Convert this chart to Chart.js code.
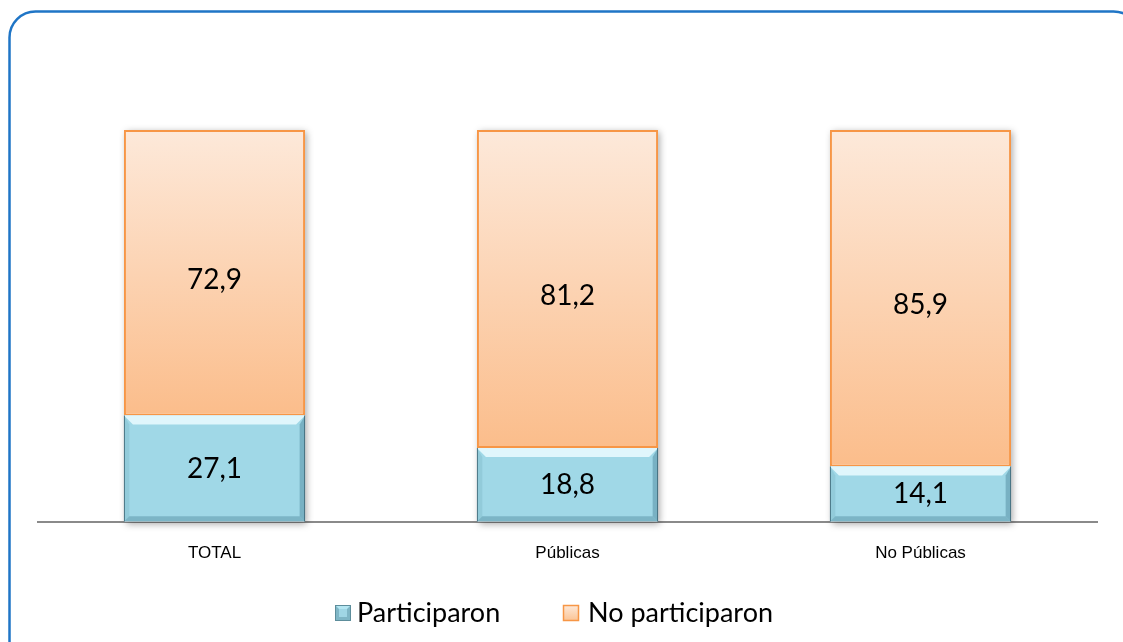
<!DOCTYPE html>
<html lang="es">
<head>
  <meta charset="UTF-8">
  <script src="https://cdn.jsdelivr.net/npm/chart.js"></script>
  <title>Participación</title>
  <style>
    html, body { margin: 0; padding: 0; background: #fff; }
    #wrap { width: 1123px; height: 642px; position: relative; }
  </style>
</head>
<body>
  <div id="wrap"><canvas id="chart" width="1123" height="642"></canvas></div>
  <script>
    const categories = ["TOTAL", "Públicas", "No Públicas"];
    const participaron = [27.1, 18.8, 14.1];
    const noParticiparon = [72.9, 81.2, 85.9];
    const seriesNames = ["Participaron", "No participaron"];

    const fmt = v => v.toFixed(1).replace(".", ",");

    // orange gradient per bar, from top of stack down to its base
    function orangeFill(ctx) {
      const chart = ctx.chart;
      const y = chart.scales.y;
      if (!chart.chartArea || !y) return "#fcd3b0";
      const top = y.getPixelForValue(100);
      const bottom = y.getPixelForValue(participaron[ctx.dataIndex] || 0);
      const g = chart.ctx.createLinearGradient(0, top, 0, bottom);
      g.addColorStop(0, "#fde9da");
      g.addColorStop(1, "#fbbd8b");
      return g;
    }

    const framePlugin = {
      id: "frame",
      beforeDraw(chart) {
        const c = chart.ctx;
        c.save();
        c.fillStyle = "#fff";
        c.fillRect(0, 0, chart.width, chart.height);
        c.strokeStyle = "#1f75c6";
        c.lineWidth = 2.5;
        c.beginPath();
        c.roundRect(9.5, 11.5, 1130, 655, 26);
        c.stroke();
        c.restore();
      }
    };

    const shadowPlugin = {
      id: "barShadow",
      beforeDatasetsDraw(chart) {
        const c = chart.ctx;
        const m0 = chart.getDatasetMeta(0).data;
        const m1 = chart.getDatasetMeta(1).data;
        c.save();
        c.shadowColor = "rgba(0,0,0,0.35)";
        c.shadowBlur = 7;
        c.shadowOffsetX = 2;
        c.shadowOffsetY = 2;
        c.fillStyle = "#fff";
        m0.forEach((b, i) => {
          const top = m1[i].y;
          c.fillRect(b.x - b.width / 2, top, b.width, b.base - top);
        });
        c.restore();
      }
    };

    const bevelPlugin = {
      id: "bevel",
      afterDatasetsDraw(chart) {
        const c = chart.ctx;
        const d = 9;
        chart.getDatasetMeta(0).data.forEach(b => {
          const l = b.x - b.width / 2, r = b.x + b.width / 2, t = b.y, bt = b.base;
          c.save();
          // top light edge
          c.fillStyle = "rgba(235,252,255,0.85)";
          c.beginPath();
          c.moveTo(l, t); c.lineTo(r, t); c.lineTo(r - d, t + d); c.lineTo(l + d, t + d);
          c.closePath(); c.fill();
          // left side
          c.fillStyle = "rgba(120,180,195,0.35)";
          c.beginPath();
          c.moveTo(l, t); c.lineTo(l + d * 0.6, t + d); c.lineTo(l + d * 0.6, bt - d * 0.6); c.lineTo(l, bt);
          c.closePath(); c.fill();
          // right side
          c.fillStyle = "rgba(70,130,150,0.45)";
          c.beginPath();
          c.moveTo(r, t); c.lineTo(r - d * 0.6, t + d); c.lineTo(r - d * 0.6, bt - d * 0.6); c.lineTo(r, bt);
          c.closePath(); c.fill();
          // bottom
          c.fillStyle = "rgba(70,130,150,0.4)";
          c.beginPath();
          c.moveTo(l, bt); c.lineTo(r, bt); c.lineTo(r - d * 0.6, bt - d * 0.6); c.lineTo(l + d * 0.6, bt - d * 0.6);
          c.closePath(); c.fill();
          // outline
          c.strokeStyle = "rgba(60,100,115,0.8)";
          c.lineWidth = 1;
          c.beginPath();
          c.moveTo(l + 0.5, bt); c.lineTo(l + 0.5, t); c.moveTo(r - 0.5, t); c.lineTo(r - 0.5, bt);
          c.stroke();
          c.restore();
        });
      }
    };

    const labelPlugin = {
      id: "valueLabels",
      afterDatasetsDraw(chart) {
        const c = chart.ctx;
        c.save();
        c.font = "28px Lato, 'Open Sans', sans-serif";
        c.fillStyle = "#000";
        c.textAlign = "center";
        c.textBaseline = "middle";
        chart.data.datasets.forEach((ds, di) => {
          chart.getDatasetMeta(di).data.forEach((b, i) => {
            const cy = (b.y + b.base) / 2 + (di === 1 ? 7 : 0);
            c.fillText(fmt(ds.data[i]), b.x, cy);
          });
        });
        c.restore();
      }
    };

    const legendPlugin = {
      id: "customLegend",
      afterDraw(chart) {
        const c = chart.ctx;
        const y = 613;
        c.save();
        // blue box
        c.fillStyle = "#7fb6c6";
        c.fillRect(335, y - 8, 16, 16);
        c.fillStyle = "#b4e6f2";
        c.beginPath(); c.moveTo(335, y - 8); c.lineTo(351, y - 8); c.lineTo(347, y - 4); c.lineTo(339, y - 4); c.closePath(); c.fill();
        c.fillStyle = "#a0d6e5";
        c.fillRect(339, y - 4, 8, 8);
        c.strokeStyle = "#5d8d9b"; c.lineWidth = 1;
        c.strokeRect(335.5, y - 7.5, 15, 15);
        // orange box
        const g = c.createLinearGradient(0, y - 8, 0, y + 8);
        g.addColorStop(0, "#fde9da"); g.addColorStop(1, "#fbc393");
        c.fillStyle = g;
        c.fillRect(563, y - 8, 16, 16);
        c.strokeStyle = "#f79646"; c.lineWidth = 1.5;
        c.strokeRect(563.5, y - 7.5, 15, 15);
        c.fillStyle = "#000";
        c.font = "27px Lato, 'Open Sans', sans-serif";
        c.textBaseline = "middle";
        c.textAlign = "left";
        c.fillText(seriesNames[0], 357, y);
        c.fillText(seriesNames[1], 588, y);
        c.restore();
      }
    };

    new Chart(document.getElementById("chart"), {
      type: "bar",
      data: {
        labels: categories,
        datasets: [
          {
            label: seriesNames[0],
            data: participaron,
            backgroundColor: "#a0d8e7",
            borderWidth: 0
          },
          {
            label: seriesNames[1],
            data: noParticiparon,
            backgroundColor: orangeFill,
            borderColor: "#f79646",
            borderWidth: 2,
            borderSkipped: false
          }
        ]
      },
      options: {
        responsive: false,
        animation: false,
        layout: { padding: { left: 38, right: 26, top: 130, bottom: 56 } },
        datasets: { bar: { categoryPercentage: 1, barPercentage: 0.513 } },
        plugins: { legend: { display: false }, tooltip: { enabled: false } },
        scales: {
          x: {
            stacked: true,
            grid: { display: false, drawTicks: false },
            border: { display: true, color: "#8a8a8a", width: 2 },
            ticks: { color: "#000", font: { family: "'Liberation Sans', Arial, sans-serif", size: 17 }, padding: 22 }
          },
          y: { stacked: true, display: false, min: 0, max: 100 }
        }
      },
      plugins: [framePlugin, shadowPlugin, bevelPlugin, labelPlugin, legendPlugin]
    });
  </script>
</body>
</html>
